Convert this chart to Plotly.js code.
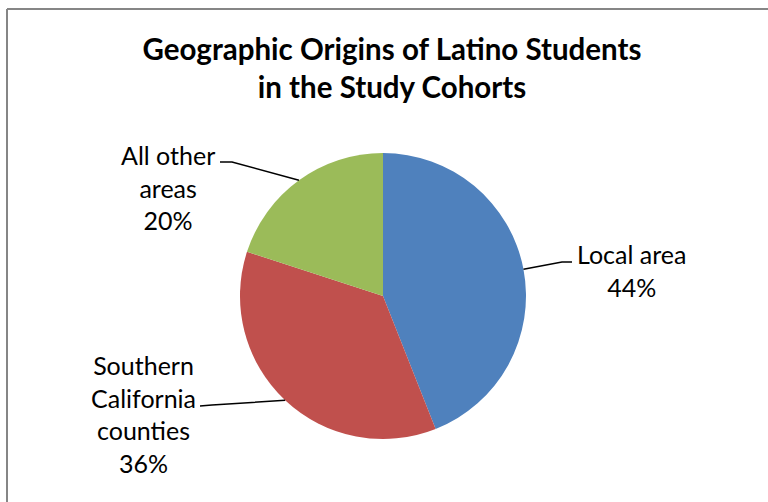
<!DOCTYPE html>
<html>
<head>
<meta charset="utf-8">
<script src="https://cdn.plot.ly/plotly-3.0.1.min.js"></script>
<style>html,body{margin:0;padding:0;background:#fff;}#chart{width:768px;height:502px;}</style>
</head>
<body>
<div id="chart"></div>
<script>
// ---- data ----
const categories = ['Local area', 'Southern California counties', 'All other areas'];
const labelLines = ['Local area', 'Southern<br>California<br>counties', 'All other<br>areas'];
const values = [44, 36, 20];
const colors = ['#4F81BD', '#C0504D', '#9BBB59'];
const chartTitle = 'Geographic Origins of Latino Students<br>in the Study Cohorts';

// ---- layout constants (pixels) ----
const W = 768, H = 502;
const cx = 383, cy = 296, R = 143;
// label centres and leader-line elbows, per slice
const labelPos = [[631, 270], [143, 414], [168, 187]];
const elbows = [[[562, 262], [572, 262]], [[212, 405], [200, 406]], [[232, 162], [220, 162]]];

const px = x => x / W;
const py = y => 1 - y / H;

const total = values.reduce((a, b) => a + b, 0);
let cum = 0;
const shapes = [];
const annotations = [];
values.forEach((v, i) => {
  const mid = (cum + v / 2) / total * 2 * Math.PI;
  cum += v;
  const ex = cx + R * Math.sin(mid), ey = cy - R * Math.cos(mid);
  let path = 'M' + px(ex) + ',' + py(ey);
  elbows[i].forEach(p => { path += ' L' + px(p[0]) + ',' + py(p[1]); });
  shapes.push({type: 'path', xref: 'paper', yref: 'paper', path: path,
    line: {color: '#000', width: 1.5}});
  annotations.push({xref: 'paper', yref: 'paper', x: px(labelPos[i][0]), y: py(labelPos[i][1]),
    xanchor: 'center', yanchor: 'middle', align: 'center', showarrow: false,
    text: labelLines[i] + '<br>' + Math.round(v / total * 100) + '%',
    font: {family: 'Lato, sans-serif', size: 25, color: '#000'}});
});
// chart border (top and left edges visible)
shapes.push({type: 'line', xref: 'paper', yref: 'paper', x0: px(7), y0: py(9), x1: px(800), y1: py(9), line: {color: '#868686', width: 2}});
shapes.push({type: 'line', xref: 'paper', yref: 'paper', x0: px(7), y0: py(9), x1: px(7), y1: py(600), line: {color: '#868686', width: 2}});

const trace = {
  type: 'pie', labels: categories, values: values, sort: false, direction: 'clockwise', rotation: 0,
  marker: {colors: colors, line: {width: 0}}, textinfo: 'none', hoverinfo: 'none',
  domain: {x: [px(cx - R), px(cx + R)], y: [py(cy + R), py(cy - R)]}
};

const layout = {
  width: W, height: H, margin: {l: 0, r: 0, t: 0, b: 0},
  paper_bgcolor: '#fff', showlegend: false,
  title: {text: chartTitle, x: px(392), xanchor: 'center', y: py(60), yanchor: 'middle',
    font: {family: 'Lato, sans-serif', size: 29.5, weight: 700, color: '#000'}},
  shapes: shapes, annotations: annotations
};
Plotly.newPlot('chart', [trace], layout, {staticPlot: true});
</script>
</body>
</html>
